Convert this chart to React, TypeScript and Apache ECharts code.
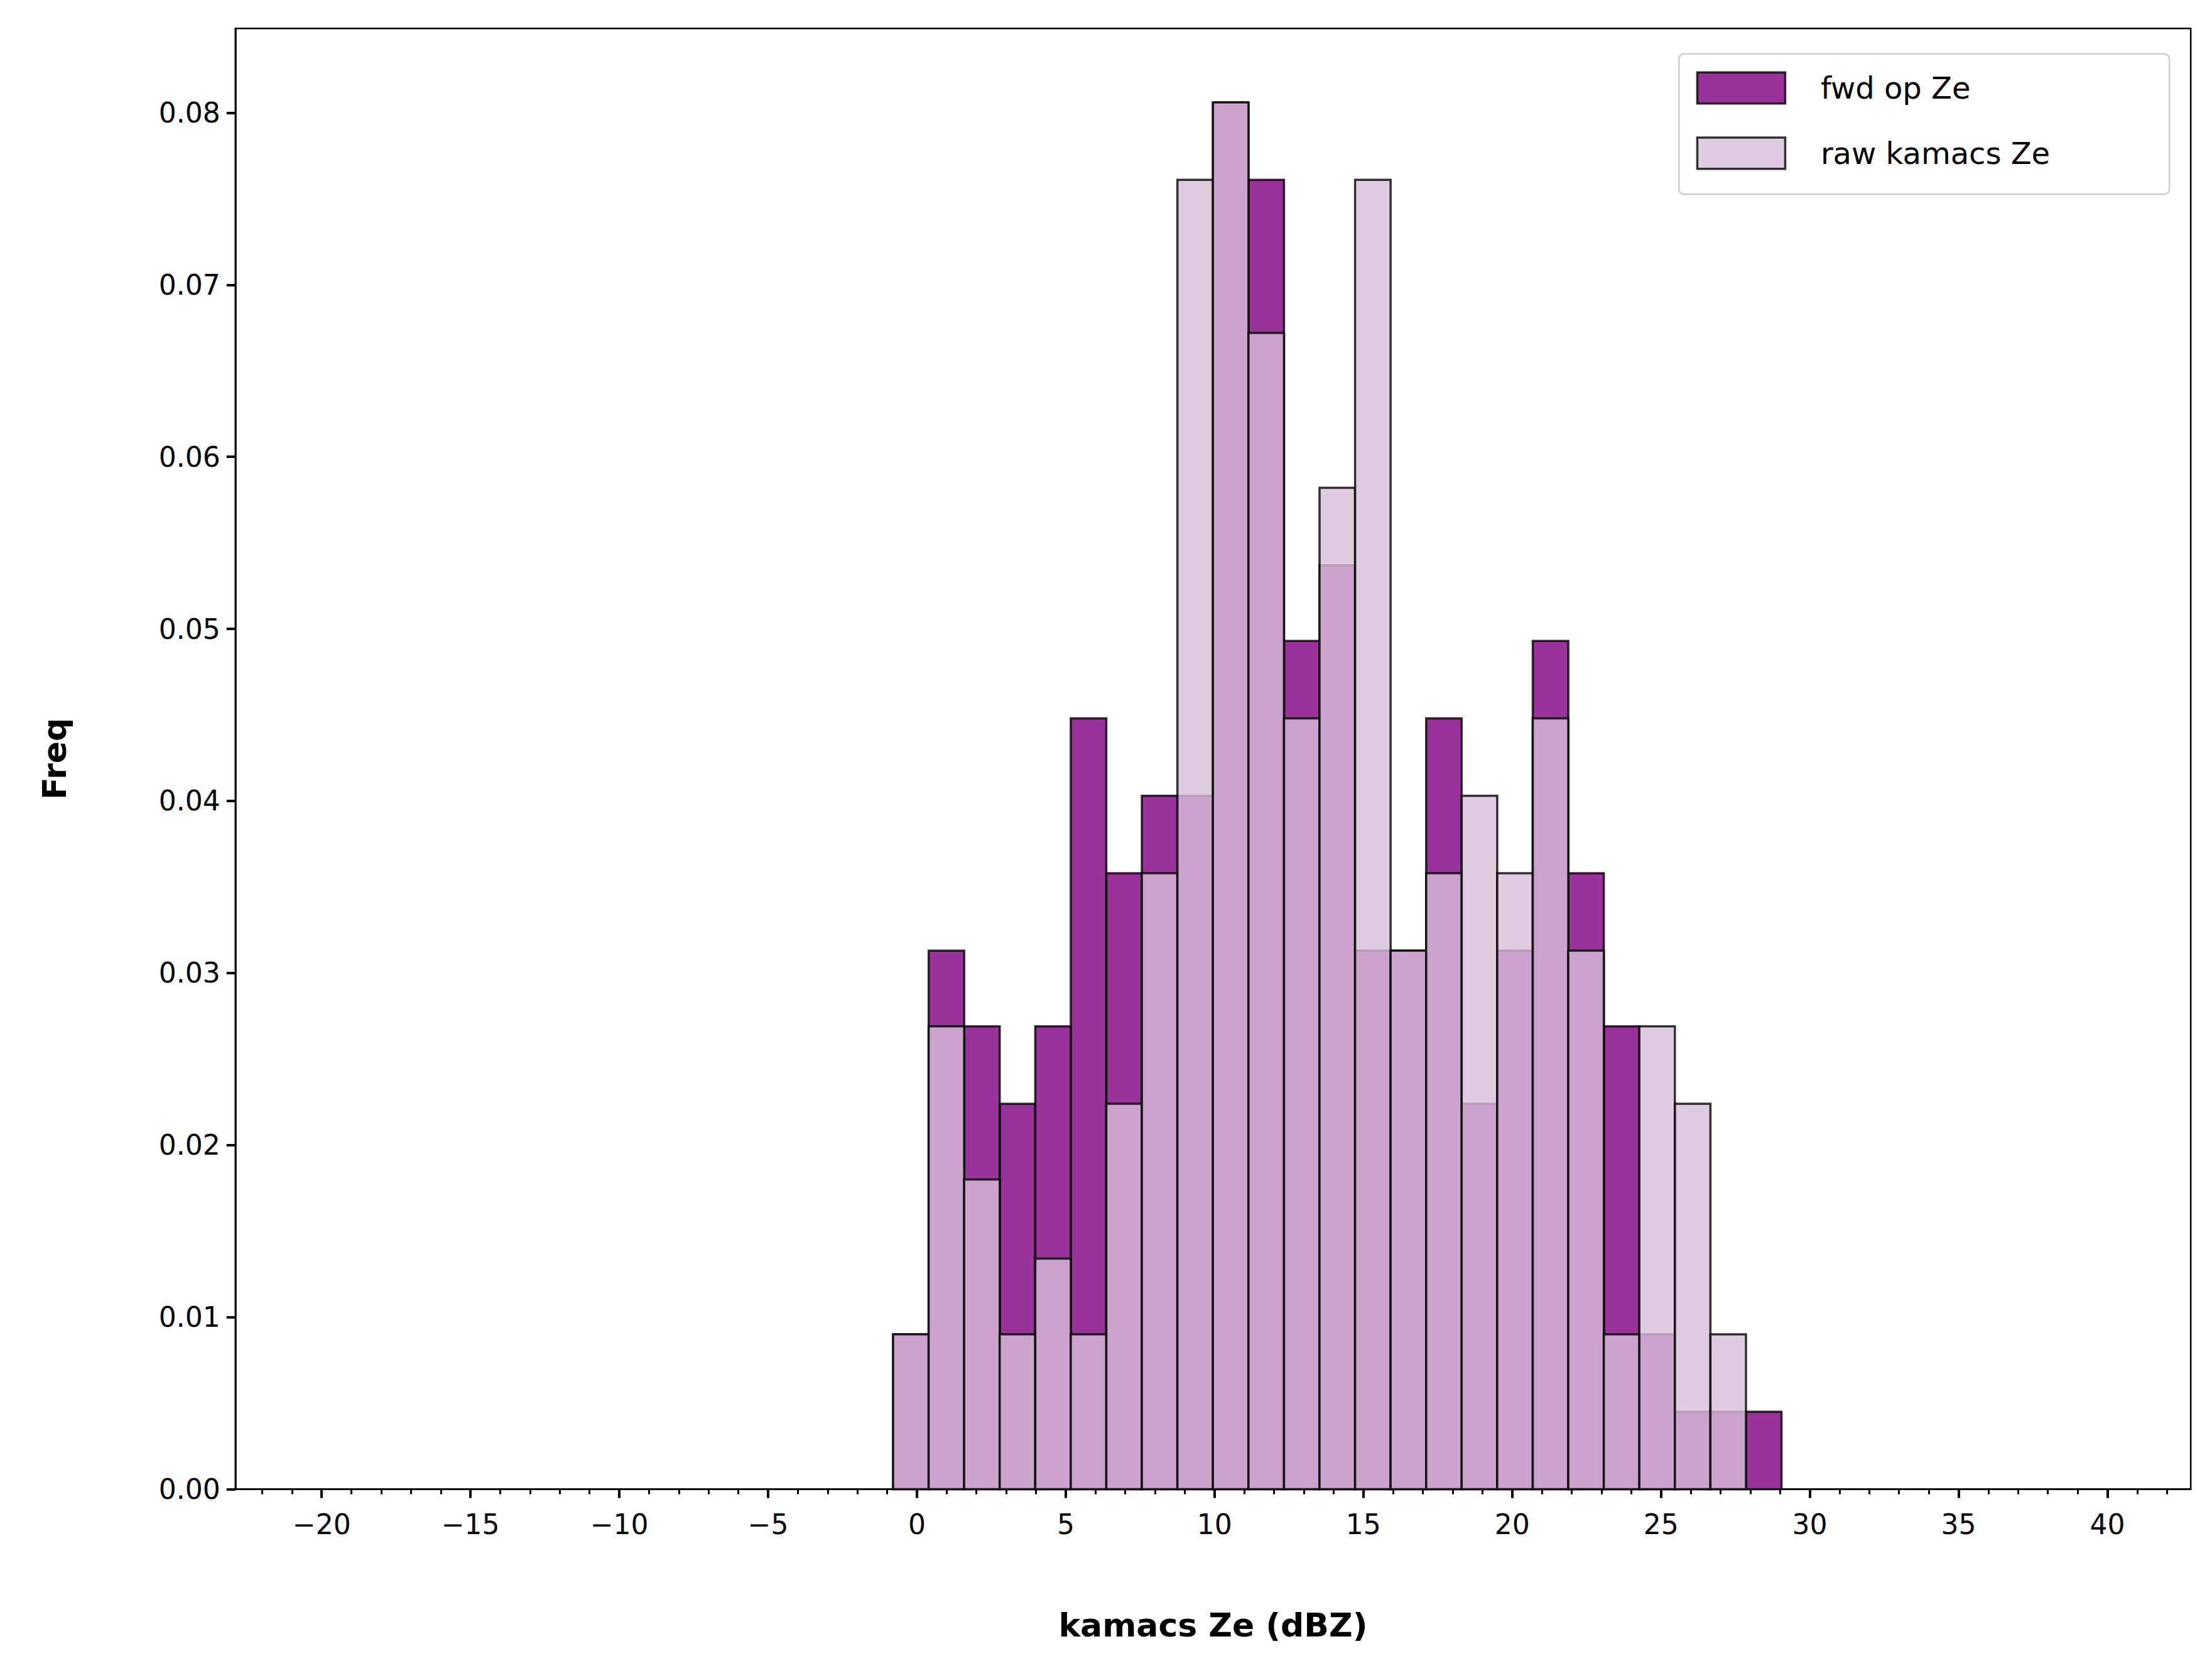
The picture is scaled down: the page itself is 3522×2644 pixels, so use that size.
import { useEffect, useRef } from 'react';
import * as echarts from 'echarts';

// bin edges (dBZ), 25 bins
const binStart = -0.8;
const binWidth = 1.194;
const fwdFreq = [0.009, 0.0313, 0.0269, 0.0224, 0.0269, 0.0448, 0.0358, 0.0403, 0.0403, 0.0806, 0.0761, 0.0493, 0.0537, 0.0313, 0.0313, 0.0448, 0.0224, 0.0313, 0.0493, 0.0358, 0.0269, 0.009, 0.0045, 0.0045, 0.0045];
const rawFreq = [0.009, 0.0269, 0.018, 0.009, 0.0134, 0.009, 0.0224, 0.0358, 0.0761, 0.0806, 0.0672, 0.0448, 0.0582, 0.0761, 0.0313, 0.0358, 0.0403, 0.0358, 0.0448, 0.0313, 0.009, 0.0269, 0.0224, 0.009, 0];
const majorTicks = [-20, -15, -10, -5, 0, 5, 10, 15, 20, 25, 30, 35, 40];
const minorTicks = Array.from({ length: 65 }, (_, i) => i - 22);

const W = 3522;
const H = 2644;
const S = W / 1560;

const toBins = (vals: number[]) =>
  vals.map((v, i) => [binStart + i * binWidth, binStart + (i + 1) * binWidth, v]);

const barSeries = (name: string, vals: number[], fill: string, z: number) => ({
  type: 'custom',
  name,
  z,
  data: toBins(vals).filter((d) => d[2] > 0),
  encode: { x: [0, 1], y: 2 },
  renderItem: (_p: any, api: any) => {
    const a = api.coord([api.value(0), api.value(2)]);
    const b = api.coord([api.value(1), 0]);
    return {
      type: 'rect',
      shape: { x: a[0], y: a[1], width: b[0] - a[0], height: b[1] - a[1] },
      style: { fill, stroke: 'rgba(0,0,0,0.8)', lineWidth: 3.5 },
    };
  },
});

const App = () => {
  const ref = useRef<HTMLDivElement>(null);

  useEffect(() => {
    document.body.style.margin = '0';
    if (!ref.current) return;
    const chart = echarts.init(ref.current, null, { renderer: 'svg' });
    const font = '"DejaVu Sans", sans-serif';
    const gl = 166 * S, gt = 20 * S, gr = W - 1545 * S, gb = H - 1050 * S;
    const lx = 1184 * S, ly = 38 * S;
    chart.setOption({
      animation: false,
      grid: { left: gl, top: gt, right: gr, bottom: gb, show: true, borderColor: '#000', borderWidth: 2.5 },
      xAxis: [
        {
          type: 'value', min: -22.9, max: 42.8,
          name: 'kamacs Ze (dBZ)', nameLocation: 'middle', nameGap: 190,
          nameTextStyle: { fontFamily: font, fontWeight: 'bold', fontSize: 52, color: '#000' },
          axisLine: { show: true, onZero: false, lineStyle: { color: '#000', width: 2.5 } },
          axisTick: { show: true, customValues: majorTicks, length: 14, lineStyle: { width: 4, color: '#000' } },
          axisLabel: { customValues: majorTicks, fontFamily: font, fontSize: 44, color: '#000', margin: 34,
            formatter: (v: number) => (v < 0 ? '\u2212' + Math.abs(v) : String(v)) },
          splitLine: { show: false },
        },
        {
          type: 'value', min: -22.9, max: 42.8, position: 'bottom',
          axisLine: { show: false },
          axisTick: { show: true, customValues: minorTicks, length: 8, lineStyle: { width: 3, color: '#000' } },
          axisLabel: { show: false },
          splitLine: { show: false },
        },
      ],
      yAxis: {
        type: 'value', min: 0, max: 0.0849, interval: 0.01,
        name: 'Freq', nameLocation: 'middle', nameGap: 262,
        nameTextStyle: { fontFamily: font, fontWeight: 'bold', fontSize: 52, color: '#000' },
        axisLine: { show: true, onZero: false, lineStyle: { color: '#000', width: 2.5 } },
        axisTick: { show: true, length: 14, lineStyle: { width: 4, color: '#000' } },
        axisLabel: { fontFamily: font, fontSize: 44, color: '#000', margin: 24,
          formatter: (v: number) => v.toFixed(2), showMaxLabel: false },
        splitLine: { show: false },
      },
      series: [
        barSeries('fwd op Ze', fwdFreq, 'rgba(128,0,128,0.8)', 2),
        barSeries('raw kamacs Ze', rawFreq, 'rgba(216,191,216,0.8)', 3),
      ],
      graphic: [
        { type: 'rect', z: 10, shape: { x: lx, y: ly, width: 346 * S, height: 99 * S, r: 8 },
          style: { fill: 'rgba(255,255,255,0.8)', stroke: '#ccc', lineWidth: 2.5 } },
        { type: 'rect', z: 11, shape: { x: 1197 * S, y: 51 * S, width: 62 * S, height: 22 * S },
          style: { fill: 'rgba(128,0,128,0.8)', stroke: 'rgba(0,0,0,0.8)', lineWidth: 3.5 } },
        { type: 'rect', z: 11, shape: { x: 1197 * S, y: 97 * S, width: 62 * S, height: 22 * S },
          style: { fill: 'rgba(216,191,216,0.8)', stroke: 'rgba(0,0,0,0.8)', lineWidth: 3.5 } },
        { type: 'text', z: 11, x: 1284 * S, y: 62 * S,
          style: { text: 'fwd op Ze', fontFamily: font, fontSize: 48, fill: '#000', verticalAlign: 'middle' } },
        { type: 'text', z: 11, x: 1284 * S, y: 108 * S,
          style: { text: 'raw kamacs Ze', fontFamily: font, fontSize: 48, fill: '#000', verticalAlign: 'middle' } },
      ],
    });
    return () => chart.dispose();
  }, []);

  return <div ref={ref} style={{ width: `${W}px`, height: `${H}px` }} />;
};

export default App;
